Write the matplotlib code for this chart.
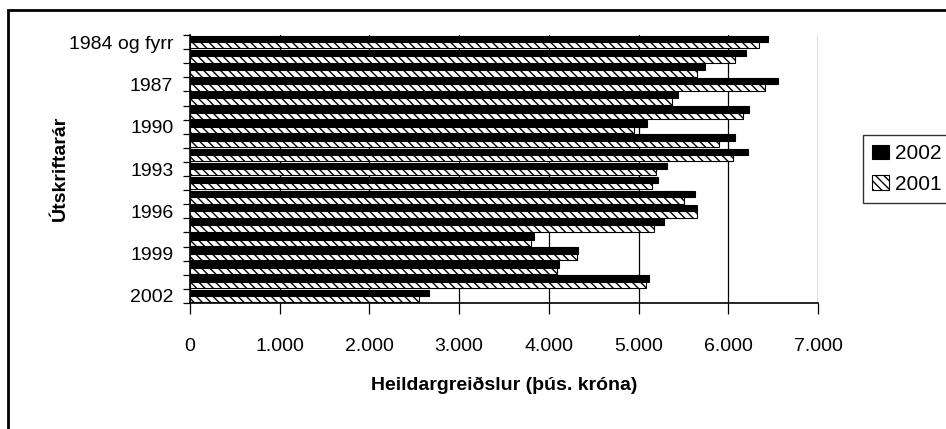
import numpy as np
import matplotlib
matplotlib.use('Agg')
import matplotlib.pyplot as plt
from matplotlib.ticker import FixedLocator, FuncFormatter, NullFormatter
from matplotlib.patches import Rectangle

plt.rcParams['font.family'] = ['Liberation Sans', 'DejaVu Sans']
plt.rcParams['hatch.linewidth'] = 1.0

categories = ['1984 og fyrr', '1985', '1986', '1987', '1988', '1989', '1990',
              '1991', '1992', '1993', '1994', '1995', '1996', '1997', '1998',
              '1999', '2000', '2001', '2002']
val_2002 = [6440, 6200, 5745, 6555, 5445, 6230, 5090, 6075, 6220, 5320,
            5220, 5630, 5650, 5278, 3838, 4330, 4114, 5115, 2668]
val_2001 = [6345, 6073, 5656, 6408, 5369, 6166, 4952, 5897, 6054, 5190,
            5145, 5506, 5648, 5171, 3801, 4315, 4092, 5086, 2550]
series_names = ['2002', '2001']
x_ticks = [0, 1000, 2000, 3000, 4000, 5000, 6000, 7000]

W, H = 946, 429
fig = plt.figure(figsize=(W / 100, H / 100), dpi=100)
ax = fig.add_axes([190 / W, 1 - 303 / H, (818 - 190) / W, (303 - 35) / H])

y = np.arange(len(categories))
h = 0.45
ax.barh(y - h / 2, val_2002, height=h, color='black', edgecolor='black',
        linewidth=0.8, label=series_names[0], zorder=3)
ax.barh(y + h / 2, val_2001, height=h, color='white', edgecolor='black',
        hatch='\\\\\\\\', linewidth=0.8, label=series_names[1], zorder=3)

ax.set_xlim(0, 7000)
ax.set_ylim(len(categories) - 0.5, -0.5)

ax.xaxis.set_major_locator(FixedLocator(x_ticks))
ax.xaxis.set_major_formatter(FuncFormatter(lambda v, p: f'{int(v):,}'.replace(',', '.')))
ax.grid(axis='x', color='black', linewidth=0.9, zorder=0)
ax.tick_params(axis='x', length=8, width=0.9, pad=17, labelsize=14)

# category boundaries get tick marks, every third category gets a label
ax.yaxis.set_major_locator(FixedLocator(np.arange(-0.5, len(categories), 1.0)))
ax.yaxis.set_major_formatter(NullFormatter())
ax.yaxis.set_minor_locator(FixedLocator(y[::3]))
ax.yaxis.set_minor_formatter(FuncFormatter(lambda v, p: categories[int(round(v))]))
ax.tick_params(axis='y', which='major', length=5, width=0.9)
ax.tick_params(axis='y', which='minor', length=0, pad=12, labelsize=14)

for s in ['top', 'right']:
    ax.spines[s].set_visible(False)
ax.spines['left'].set_linewidth(1.2)
ax.spines['bottom'].set_linewidth(1.2)

fig.text(504 / W, 1 - 385 / H, 'Heildargreiðslur (þús. króna)', ha='center',
         va='center', fontsize=14, fontweight='bold')
fig.text(60 / W, 1 - 168 / H, 'Útskriftarár', ha='center', va='center',
         rotation=90, fontsize=14, fontweight='bold')

leg = fig.legend(loc='lower left', bbox_to_anchor=(863 / W, 1 - 203 / H),
                 frameon=True, fancybox=False, shadow=False, fontsize=15,
                 handlelength=0.8, handleheight=0.7, handletextpad=0.3,
                 borderpad=0.45, labelspacing=0.55, borderaxespad=0)
leg.get_frame().set_edgecolor('black')
leg.get_frame().set_linewidth(1.0)

fig.patches.append(Rectangle((8 / W, -0.05), 1.2, 1 - 10 / H + 0.05,
                             transform=fig.transFigure, fill=False,
                             edgecolor='black', linewidth=2))

fig.savefig('out.png', dpi=100)
